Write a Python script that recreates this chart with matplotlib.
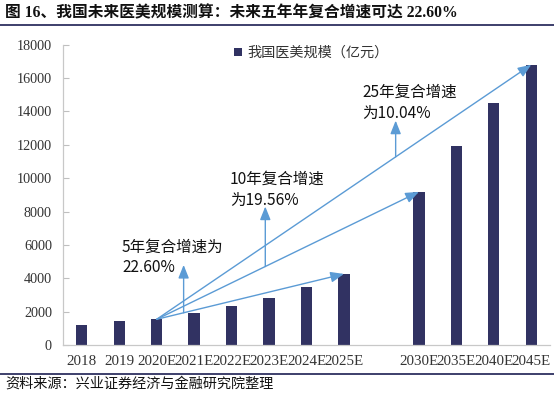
import matplotlib
matplotlib.use("Agg")
import matplotlib.pyplot as plt
from matplotlib.patches import Patch
import numpy as np

plt.rcParams['font.family'] = ['Noto Sans CJK SC', 'DejaVu Sans']

categories = ['2018', '2019', '2020E', '2021E', '2022E', '2023E', '2024E', '2025E',
              '', '2030E', '2035E', '2040E', '2045E']
values = [1200, 1430, 1540, 1890, 2320, 2840, 3480, 4260,
          np.nan, 9180, 11900, 14520, 16800]
legend_label = '我国医美规模（亿元）'
title = '图 16、我国未来医美规模测算：未来五年年复合增速可达 22.60%'
source = '资料来源：兴业证券经济与金融研究院整理'
yticks = [0, 2000, 4000, 6000, 8000, 10000, 12000, 14000, 16000, 18000]

# growth arrows: start category, end categories
arrow_start = '2020E'
arrow_ends = ['2025E', '2030E', '2045E']
labels_text = [('5年复合增速为', '22.60%'), ('10年复合增速', '为19.56%'), ('25年复合增速', '为10.04%')]
# vertical pointer arrows (x position in category units, top value)
pointer_x = [2.72, 4.90, 8.38]
pointer_top = [4800, 8300, 13450]

W, H = 554, 396
fig = plt.figure(figsize=(W / 100, H / 100), dpi=100)
fx = lambda x: x / W
fy = lambda y: 1 - y / H

ax = fig.add_axes([fx(63), fy(345), fx(550) - fx(63), fy(44.7) - fy(345)])

bar_color = '#313262'
arrow_color = '#5B9BD5'
x = np.arange(len(categories))
ax.bar(x, values, width=0.3, color=bar_color, zorder=2)

ax.set_xlim(-0.5, len(categories) - 0.5)
ax.set_ylim(0, 18000)
ax.set_yticks(yticks)
ax.set_yticklabels([str(v) for v in yticks], family='Liberation Serif', fontsize=10.2, color='#333333')
ax.set_xticks(x)
ax.set_xticklabels(categories, family='Liberation Serif', fontsize=10.8, color='#333333')
ax.tick_params(axis='x', length=0, pad=7)
ax.tick_params(axis='y', direction='in', length=4, width=0.8, color='#BFBFBF', pad=8)
for s in ['top', 'right']:
    ax.spines[s].set_visible(False)
for s in ['left', 'bottom']:
    ax.spines[s].set_color('#C8C8C8')
    ax.spines[s].set_linewidth(0.9)

# growth arrows
i0 = categories.index(arrow_start)
v0 = values[i0]
line_fns = []
for e in arrow_ends:
    i1 = categories.index(e)
    v1 = values[i1]
    ax.annotate('', xy=(i1, v1), xytext=(i0, v0),
                arrowprops=dict(arrowstyle='-|>,head_length=0.8,head_width=0.32',
                                color=arrow_color, lw=1.0, shrinkA=0, shrinkB=0),
                zorder=3)
    line_fns.append(lambda xx, i1=i1, v1=v1: v0 + (xx - i0) / (i1 - i0) * (v1 - v0))

for k in range(3):
    base = line_fns[k](pointer_x[k])
    ax.annotate('', xy=(pointer_x[k], pointer_top[k]), xytext=(pointer_x[k], base),
                arrowprops=dict(arrowstyle='-|>,head_length=0.8,head_width=0.32',
                                color=arrow_color, lw=1.0, shrinkA=0, shrinkB=0),
                zorder=3)

# labels (pixel positions)
label_pos = [(122, 247, 268), (230, 179, 200), (362, 92, 113)]
for (l1, l2), (px, py1, py2) in zip(labels_text, label_pos):
    fig.text(fx(px), fy(py1), l1, fontsize=11.2, va='center', ha='left', color='#111111')
    fig.text(fx(px), fy(py2), l2, fontsize=11.2, va='center', ha='left', color='#111111')

# legend
handle = Patch(facecolor=bar_color, edgecolor='none')
leg = fig.legend([handle], [legend_label], loc='center left',
                 bbox_to_anchor=(fx(234), fy(53)), frameon=False,
                 handlelength=0.55, handleheight=0.55, handletextpad=0.4,
                 borderpad=0, borderaxespad=0, fontsize=10.2)
for t in leg.get_texts():
    t.set_color('#333333')

# title and rules
fig.text(fx(5), fy(13), title, fontsize=11.3, fontweight='bold', va='center', ha='left',
         family=['Liberation Serif', 'Noto Sans CJK SC'], color='#111111')
fig.add_artist(plt.Line2D([0, 1], [fy(24.5), fy(24.5)], color='#2E3060', lw=1.3))
fig.add_artist(plt.Line2D([0, 1], [fy(374), fy(374)], color='#2E3060', lw=1.3))
fig.text(fx(5), fy(384), source, fontsize=10.2, va='center', ha='left', color='#111111')

fig.savefig('out.png', dpi=100)
